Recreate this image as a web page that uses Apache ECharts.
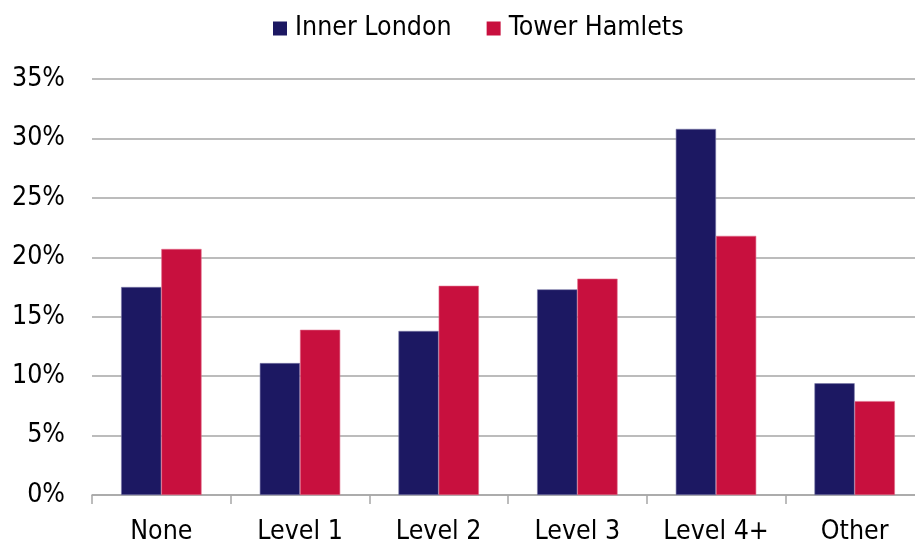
<!DOCTYPE html>
<html>
<head>
<meta charset="utf-8">
<script src="https://cdn.jsdelivr.net/npm/echarts@6/dist/echarts.min.js"></script>
<style>
  html, body { margin: 0; padding: 0; background: #fff; }
  #chart { width: 915px; height: 541px; }
</style>
</head>
<body>
<div id="chart"></div>
<script>
// Highest qualification held by residents, share of population (%)
const categories = ['None', 'Level 1', 'Level 2', 'Level 3', 'Level 4+', 'Other'];
const innerLondon = [17.5, 11.1, 13.8, 17.3, 30.8, 9.4];
const towerHamlets = [20.7, 13.9, 17.6, 18.2, 21.8, 7.9];
const seriesNames = ['Inner London', 'Tower Hamlets'];

const FONT = '"DejaVu Sans Condensed", "DejaVu Sans", sans-serif';

const chart = echarts.init(document.getElementById('chart'), null, { renderer: 'canvas' });
chart.setOption({
  animation: false,
  textStyle: { fontFamily: FONT },
  color: ['#1C1862', '#C8103E'],
  legend: {
    data: seriesNames,
    top: 10,
    left: 268,
    itemWidth: 14,
    itemHeight: 14,
    itemGap: 35,
    icon: 'rect',
    itemStyle: { borderWidth: 0 },
    textStyle: { fontFamily: FONT, fontSize: 26.5, color: '#000', padding: [0, 0, 0, 3] }
  },
  grid: { left: 92, top: 79, width: 832, height: 416, containLabel: false, outerBoundsMode: 'none' },
  xAxis: {
    type: 'category',
    data: categories,
    axisLine: { lineStyle: { color: '#A6A6A6', width: 1.5 } },
    axisTick: { show: true, length: 9, lineStyle: { color: '#A6A6A6', width: 1.5 } },
    axisLabel: { fontFamily: FONT, fontSize: 26.5, color: '#000', margin: 24 }
  },
  yAxis: {
    type: 'value',
    min: 0,
    max: 35,
    interval: 5,
    axisLine: { show: false },
    axisTick: { show: false },
    splitLine: { lineStyle: { color: '#A6A6A6', width: 1.5 } },
    axisLabel: {
      fontFamily: FONT, fontSize: 26.5, color: '#000', margin: 27,
      formatter: v => v + '%'
    }
  },
  series: [
    {
      name: seriesNames[0], type: 'bar', data: innerLondon,
      barGap: '0%', barCategoryGap: '42%',
      itemStyle: { borderColor: '#7a78a8', borderWidth: 0.6 }
    },
    {
      name: seriesNames[1], type: 'bar', data: towerHamlets,
      barGap: '0%', barCategoryGap: '42%',
      itemStyle: { borderColor: '#e06a88', borderWidth: 0.6 }
    }
  ]
});
</script>
</body>
</html>
